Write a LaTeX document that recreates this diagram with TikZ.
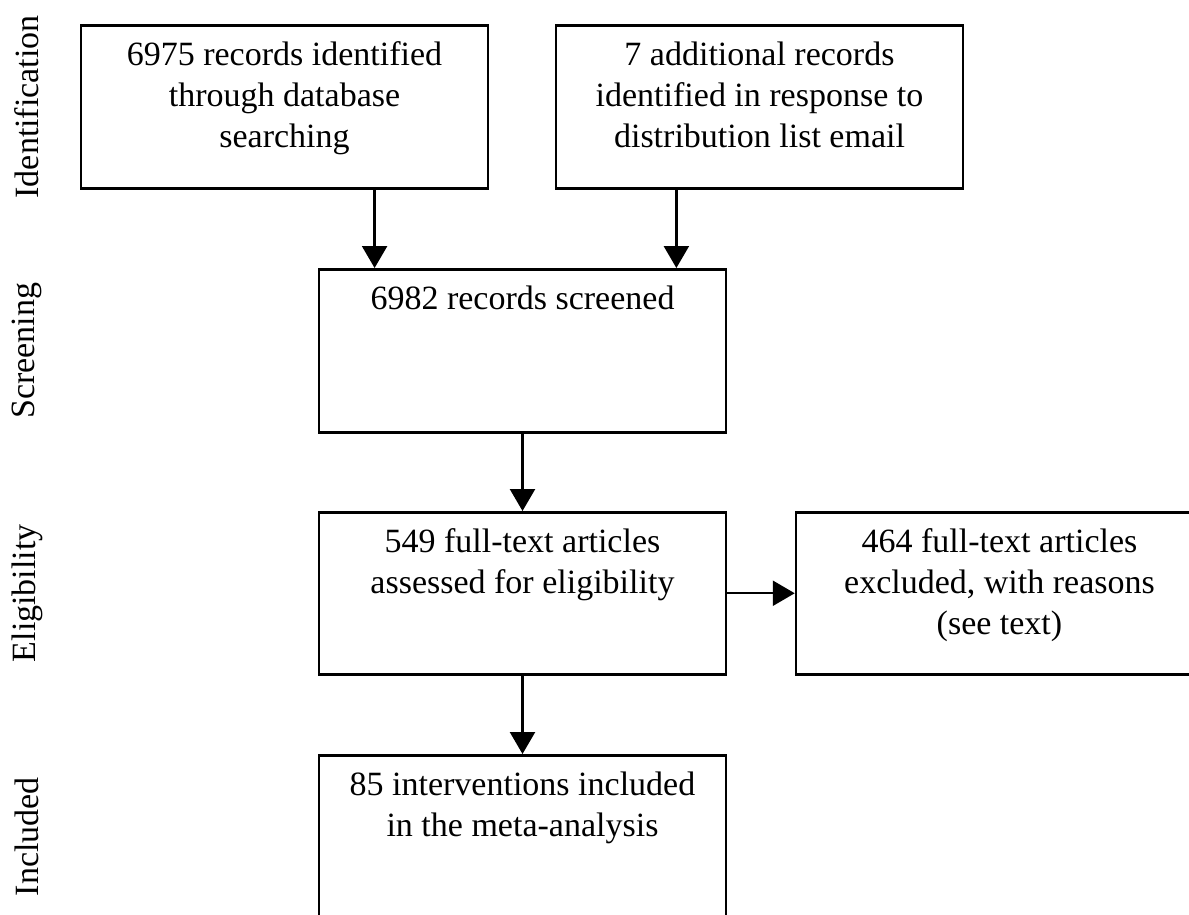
\documentclass[tikz,border=0pt]{standalone}
\usepackage{fontspec}
\setmainfont{Liberation Serif}
\usetikzlibrary{arrows.meta,calc}
\begin{document}
\begin{tikzpicture}[x=1pt,y=-1pt,
  box/.style={draw=black,line width=2.5pt,rectangle,inner sep=0pt,anchor=north,
    minimum width=407pt,text height=40pt,text depth=123pt,
    font=\fontsize{34}{41}\selectfont},
  arr/.style={line width=2.4pt,-{Triangle[width=25pt,length=22pt]}},
  stage/.style={rotate=90,anchor=center,inner sep=0pt,font=\fontsize{34}{41}\selectfont}]
\useasboundingbox (0,0) rectangle (1189,914);
\clip (0,0) rectangle (1189,914);
\fill[white] (0,0) rectangle (1189,914);
\newcommand{\boxtext}[1]{\parbox[t]{407pt}{\centering #1}}
\node[box] (b1) at (284.5,24) {\boxtext{6975 records identified\\through database\\searching}};
\node[box] (b2) at (759.5,24) {\boxtext{7 additional records\\identified in response to\\distribution list email}};
\node[box] (b3) at (522.5,268) {\boxtext{6982 records screened}};
\node[box,text depth=122pt] (b4) at (522.5,511) {\boxtext{549 full-text articles\\assessed for eligibility}};
\node[box,text depth=122pt] (b5) at (999.5,511) {\boxtext{464 full-text articles\\excluded, with reasons\\(see text)}};
\node[box] (b6) at (522.5,754) {\boxtext{85 interventions included\\in the meta-analysis}};
\coordinate (lx) at (27,0);
\node[stage] (lid) at (b1.center -| lx) {Identification};
\node[stage] (lsc) at (b3.center -| lx) {Screening};
\node[stage] (lel) at (b4.center -| lx) {Eligibility};
\node[stage] (lin) at (b6.center -| lx) {Included};
\draw[arr] ($(b1.south west)!0.72!(b1.south east)$) coordinate (a1) -- (a1 |- b3.north);
\draw[arr] ($(b2.south west)!0.297!(b2.south east)$) coordinate (a2) -- (a2 |- b3.north);
\draw[arr] (b3.south) -- (b4.north);
\draw[arr] (b4.south) -- (b6.north);
\draw[arr] (b4.east) -- (b5.west);
\end{tikzpicture}
\end{document}
